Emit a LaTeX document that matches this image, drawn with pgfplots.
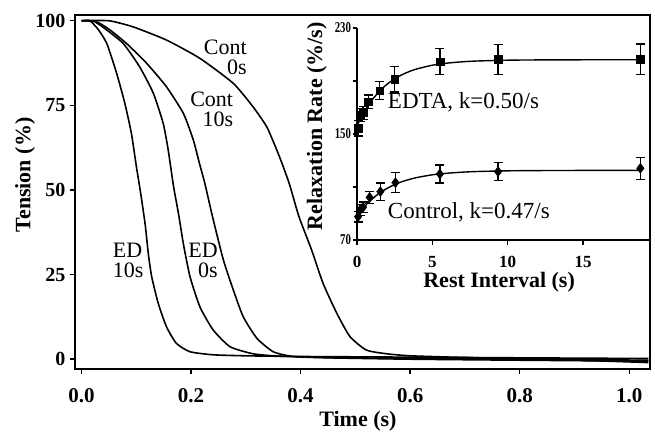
\documentclass[border=0pt]{standalone}
\usepackage{pgfplots}
\pgfplotsset{compat=1.18}
\usepackage{fontspec}
\setmainfont{Liberation Serif}
\newfontfamily\narrowserif[FakeStretch=0.72]{Liberation Serif}
\begin{document}
\begin{tikzpicture}
\begin{axis}[
  at={(75pt,58pt)}, anchor=south west, scale only axis,
  width=575pt, height=354pt,
  xmin=-0.012, xmax=1.038, ymin=-2.9, ymax=101.7,
  axis line style={line width=1.6pt},
  tick style={line width=1.4pt, black},
  major tick length=5pt,
  tick align=outside,
  xtick={0,0.2,0.4,0.6,0.8,1.0},
  xticklabels={0.0,0.2,0.4,0.6,0.8,1.0},
  ytick={0,25,50,75,100},
  xtick pos=bottom, ytick pos=left,
  /pgf/number format/assume math mode=true,
  xticklabel style={font=\fontsize{21}{23}\selectfont\bfseries, yshift=-11pt},
  yticklabel style={font=\fontsize{20}{22}\selectfont\bfseries, xshift=-1pt},
  xlabel={Time (s)},
  xlabel style={font=\fontsize{22}{24}\selectfont\bfseries, at={(axis description cs:0.492,0)}, anchor=north, yshift=-39pt},
  ylabel={Tension (\%)},
  ylabel style={font=\fontsize{22}{24}\selectfont\bfseries, at={(axis description cs:-0.087,0.548)}, anchor=center},
  clip=false,
]
% ED 10s
\addplot[black, line width=1.6pt, smooth, tension=0.35] coordinates {
(0,100)(0.015,100)(0.03,97.5)(0.046,93.3)(0.064,84.5)(0.079,75.6)(0.091,66.7)(0.1,57)(0.107,50)(0.116,40)(0.122,31)(0.128,24.4)(0.14,16.5)(0.155,9.6)(0.173,4.7)(0.198,2.2)(0.24,1.3)(0.3,1.0)(0.4,0.8)(0.6,0.6)(0.8,0.4)(1.035,0.2)};
% ED 0s
\addplot[black, line width=1.6pt, smooth, tension=0.35] coordinates {
(0,100)(0.02,100)(0.04,98)(0.076,93.3)(0.106,86.4)(0.131,78.6)(0.149,69.7)(0.158,62)(0.168,51)(0.177,43)(0.186,34)(0.198,24.4)(0.216,15.5)(0.24,8.7)(0.271,3.7)(0.313,1.6)(0.36,0.9)(0.45,0.5)(0.6,0.2)(0.8,0)(1.035,-0.3)};
% Cont 10s
\addplot[black, line width=1.6pt, smooth, tension=0.35] coordinates {
(0,100)(0.027,99.7)(0.05,97.5)(0.082,93.3)(0.119,87.4)(0.155,80.5)(0.186,72.6)(0.204,64.8)(0.215,58)(0.225,52)(0.24,41.5)(0.259,29.3)(0.277,20.5)(0.295,12.6)(0.32,6.2)(0.35,2.2)(0.386,0.8)(0.45,0.4)(0.6,0)(0.8,-0.3)(1.035,-0.6)};
% Cont 0s
\addplot[black, line width=1.6pt, smooth, tension=0.35] coordinates {
(0,100)(0.05,100)(0.094,98.2)(0.155,94.3)(0.216,88.9)(0.277,81.5)(0.313,74.6)(0.338,68.7)(0.356,62)(0.368,57)(0.38,51.5)(0.397,42.1)(0.42,32.3)(0.441,22.4)(0.466,13.6)(0.49,6.7)(0.52,2.7)(0.557,1.6)(0.6,1.0)(0.7,0.5)(0.85,0)(1.035,-1.0)};
\node[anchor=north east, align=right, font=\fontsize{22}{20}\selectfont, inner sep=0pt] at (axis cs:0.302,94.3) {Cont\\0s};
\node[anchor=north east, align=right, font=\fontsize{22}{20}\selectfont, inner sep=0pt] at (axis cs:0.277,79.1) {Cont\\10s};
\node[anchor=north west, align=left, font=\fontsize{22}{20}\selectfont, inner sep=0pt] at (axis cs:0.057,34.3) {ED\\10s};
\node[anchor=north east, align=right, font=\fontsize{22}{20}\selectfont, inner sep=0pt] at (axis cs:0.249,34.3) {ED\\0s};
\end{axis}
\begin{axis}[
  at={(357pt,187pt)}, anchor=south west, scale only axis,
  width=293pt, height=212pt,
  xmin=0, xmax=19.44, ymin=70, ymax=230,
  axis lines=left, axis line style={-, line width=1.5pt},
  tick style={line width=1.2pt, black},
  major tick length=4.5pt, minor tick length=4.5pt,
  tick align=outside,
  xtick={0,5,10,15},
  ytick={70,150,230}, minor ytick={110,190},
  /pgf/number format/assume math mode=true,
  xticklabel style={font=\fontsize{17}{19}\selectfont\bfseries, yshift=-8pt},
  yticklabel style={font=\narrowserif\fontsize{15}{17}\selectfont\bfseries, xshift=2pt},
  xlabel={Rest Interval (s)},
  xlabel style={font=\fontsize{22}{24}\selectfont\bfseries, at={(axis description cs:0.485,0)}, anchor=north, yshift=-29pt},
  ylabel={Relaxation Rate (\%/s)},
  ylabel style={font=\fontsize{22}{24}\selectfont\bfseries, at={(axis description cs:-0.137,0.537)}, anchor=center},
  clip=false,
]
% fits
\addplot[black, line width=1.4pt, smooth] coordinates {
(0,156)(0.25,161.9)(0.5,167.1)(0.75,171.6)(1,175.7)(1.5,182.4)(2,187.6)(2.5,191.7)(3,194.8)(3.5,197.3)(4,199.2)(5,201.9)(6,203.5)(7,204.5)(8,205.1)(10,205.7)(12,205.9)(15,206)(18.8,206)};
\addplot[black, line width=1.4pt, smooth] coordinates {
(0,88)(0.25,91.8)(0.5,95.2)(0.75,98.2)(1,100.9)(1.5,105.5)(2,109.0)(2.5,111.8)(3,114.1)(3.5,115.8)(4,117.2)(5,119.2)(6,120.4)(7,121.2)(8,121.7)(10,122.2)(12,122.4)(15,122.5)(18.8,122.5)};
% EDTA
\addplot[black, only marks, mark=square*, mark size=3.8pt,
  error bars/.cd, y dir=both, y explicit,
  error bar style={line width=1.3pt}, error mark options={rotate=90, mark size=4.5pt, line width=1.3pt}]
  table[x=x, y=y, y error=e] {
x y e
0.07 154.3 5.7
0.2 164.3 5.0
0.4 166.0 5.0
0.75 174.4 5.0
1.5 182.7 6.9
2.5 191.5 9.7
5.5 204.6 9.7
9.36 206.4 11.3
18.8 206.4 11.6
};
% Control
\addplot[black, only marks, mark=diamond*, mark size=5pt,
  error bars/.cd, y dir=both, y explicit,
  error bar style={line width=1.3pt}, error mark options={rotate=90, mark size=4.5pt, line width=1.3pt}]
  table[x=x, y=y, y error=e] {
x y e
0.07 87.6 4.0
0.2 92.6 4.0
0.4 94.7 4.0
0.84 102.2 4.4
1.55 106.5 6.5
2.55 113.3 7.5
5.5 119.8 6.7
9.36 121.6 6.9
18.8 124.1 8.2
};
\node[anchor=base west, inner sep=0pt, font=\fontsize{23}{25}\selectfont] at (axis cs:2.04,169.6) {EDTA, k=0.50/s};
\node[anchor=base west, inner sep=0pt, font=\fontsize{23}{25}\selectfont] at (axis cs:2.04,86.6) {Control, k=0.47/s};
\end{axis}
\path (0pt,0pt) rectangle (655pt,427pt);
\end{tikzpicture}
\end{document}
